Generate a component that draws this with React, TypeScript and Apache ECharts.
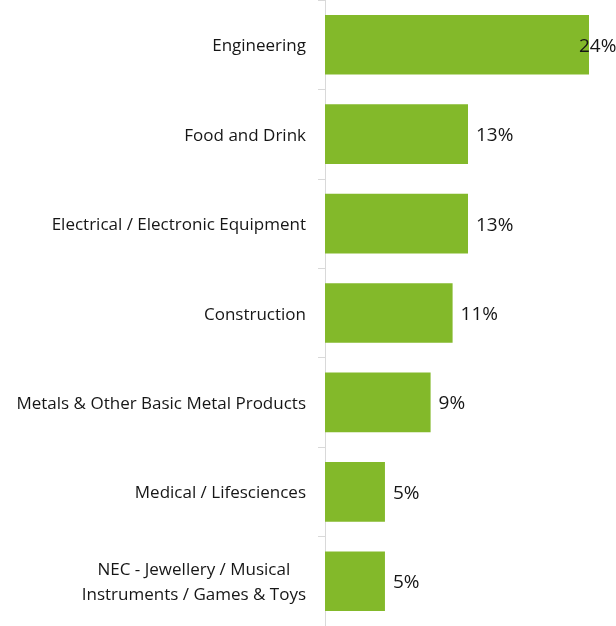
import React, { useEffect, useRef } from "react";
import * as echarts from "echarts";

const categories = [
  "Engineering",
  "Food and Drink",
  "Electrical / Electronic Equipment",
  "Construction",
  "Metals & Other Basic Metal Products",
  "Medical / Lifesciences",
  "NEC - Jewellery / Musical\nInstruments / Games & Toys",
];
const values = [24.0, 13.0, 13.0, 11.6, 9.6, 5.45, 5.45];
const valueLabels = ["24%", "13%", "13%", "11%", "9%", "5%", "5%"];
const labelOffsets = [[-18, 0], [0, 0], [0, 0], [0, 0], [0, 0], [0, 0], [0, 0]];

export default function App() {
  const ref = useRef<HTMLDivElement>(null);
  useEffect(() => {
    const chart = echarts.init(ref.current!, null, { renderer: "svg" });
    chart.setOption({
      animation: false,
      grid: { left: 325, top: -1, width: 264, height: 630, containLabel: false },
      xAxis: {
        type: "value",
        min: 0,
        max: 24,
        show: false,
        splitLine: { show: false },
      },
      yAxis: {
        type: "category",
        inverse: true,
        data: categories,
        axisLine: { show: true, lineStyle: { color: "#d9d9d9", width: 1 } },
        axisTick: { show: true, length: 7, lineStyle: { color: "#d9d9d9" } },
        axisLabel: {
          margin: 19,
          color: "#161616",
          fontFamily: "Open Sans",
          fontSize: 17,
          lineHeight: 25,
          formatter: (v: string) =>
            v.split("\n").map((s) => "{c|" + s + "}").join("\n"),
          rich: {
            c: {
              align: "center",
              color: "#161616",
              fontFamily: "Open Sans",
              fontSize: 17,
              lineHeight: 25,
            },
          },
        },
      },
      series: [
        {
          type: "bar",
          barCategoryGap: "33.3%",
          data: values.map((v, i) => ({
            value: v,
            label: { offset: labelOffsets[i] },
          })),
          itemStyle: { color: "#83B92A" },
          label: {
            show: true,
            position: "right",
            distance: 8,
            color: "#161616",
            fontFamily: "Open Sans",
            fontSize: 19,
            formatter: (p: any) => valueLabels[p.dataIndex],
          },
        },
      ],
    });
    return () => chart.dispose();
  }, []);
  return (
    <div
      ref={ref}
      style={{ position: "fixed", left: 0, top: 0, width: 616, height: 626 }}
    />
  );
}
